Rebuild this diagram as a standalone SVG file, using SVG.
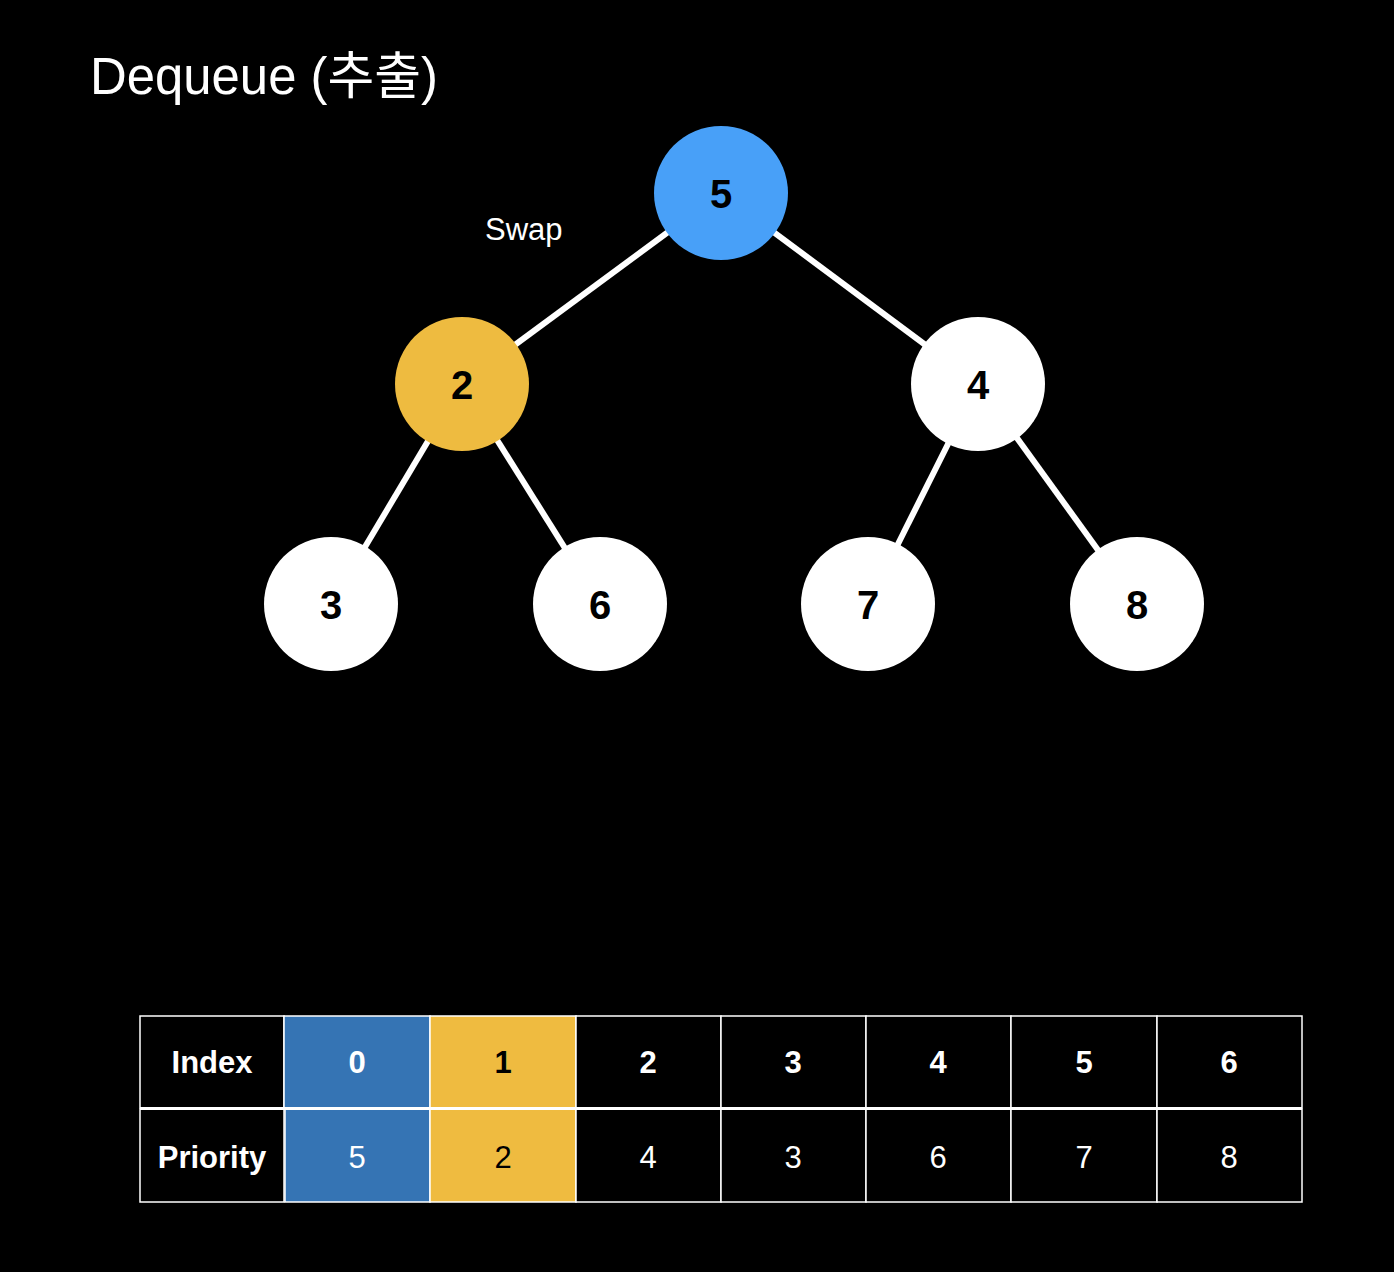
<svg xmlns="http://www.w3.org/2000/svg" width="1394" height="1272" viewBox="0 0 1394 1272">
<style>
.edge{stroke:#fff;stroke-width:6;fill:none}
.node{fill:#fff}
.nl{font-family:"Liberation Sans",Arial,sans-serif;font-weight:bold;font-size:40px;text-anchor:middle;fill:#000}
.cell{stroke:#fff;stroke-width:1.5}
.th{font-family:"Liberation Sans",Arial,sans-serif;font-weight:bold;font-size:31px;text-anchor:middle;fill:#fff}
.td{font-family:"Liberation Sans",Arial,sans-serif;font-size:31px;text-anchor:middle;fill:#fff}
</style>
<rect width="1394" height="1272" fill="#000"/>
<text x="90" y="94" font-family="'Liberation Sans','Noto Sans CJK KR',sans-serif" font-size="51" fill="#fff" textLength="348" lengthAdjust="spacingAndGlyphs">Dequeue (추출)</text>
<text x="485" y="240" font-family="'Liberation Sans',Arial,sans-serif" font-size="31" fill="#fff">Swap</text>
<g id="connectors">
<line class="edge" x1="721" y1="193" x2="462" y2="384"/>
<line class="edge" x1="721" y1="193" x2="978" y2="384"/>
<line class="edge" x1="462" y1="384" x2="331" y2="604"/>
<line class="edge" x1="462" y1="384" x2="600" y2="604"/>
<line class="edge" x1="978" y1="384" x2="868" y2="604"/>
<line class="edge" x1="978" y1="384" x2="1137" y2="604"/>
</g>
<g id="n5"><circle cx="721" cy="193" r="67" fill="#48A0F8"/><text class="nl" x="721" y="208">5</text></g>
<g id="n2"><circle cx="462" cy="384" r="67" fill="#EEBB40"/><text class="nl" x="462" y="399">2</text></g>
<g id="n4"><circle class="node" cx="978" cy="384" r="67"/><text class="nl" x="978" y="399">4</text></g>
<g id="n3"><circle class="node" cx="331" cy="604" r="67"/><text class="nl" x="331" y="619">3</text></g>
<g id="n6"><circle class="node" cx="600" cy="604" r="67"/><text class="nl" x="600" y="619">6</text></g>
<g id="n7"><circle class="node" cx="868" cy="604" r="67"/><text class="nl" x="868" y="619">7</text></g>
<g id="n8"><circle class="node" cx="1137" cy="604" r="67"/><text class="nl" x="1137" y="619">8</text></g>
<g id="table">
<rect class="cell" x="140" y="1016" width="144" height="92" fill="#000"/>
<rect class="cell" x="284" y="1016" width="146" height="92" fill="#3574B4"/>
<rect class="cell" x="430" y="1016" width="146" height="92" fill="#EFBB40"/>
<rect class="cell" x="576" y="1016" width="145" height="92" fill="#000"/>
<rect class="cell" x="721" y="1016" width="145" height="92" fill="#000"/>
<rect class="cell" x="866" y="1016" width="145" height="92" fill="#000"/>
<rect class="cell" x="1011" y="1016" width="146" height="92" fill="#000"/>
<rect class="cell" x="1157" y="1016" width="145" height="92" fill="#000"/>
<rect class="cell" x="140" y="1109" width="144" height="93" fill="#000"/>
<rect class="cell" x="285" y="1109" width="145" height="93" fill="#3574B4"/>
<rect class="cell" x="430" y="1109" width="146" height="93" fill="#EFBB40"/>
<rect class="cell" x="576" y="1109" width="145" height="93" fill="#000"/>
<rect class="cell" x="721" y="1109" width="145" height="93" fill="#000"/>
<rect class="cell" x="866" y="1109" width="145" height="93" fill="#000"/>
<rect class="cell" x="1011" y="1109" width="146" height="93" fill="#000"/>
<rect class="cell" x="1157" y="1109" width="145" height="93" fill="#000"/>
<line x1="140" y1="1108.5" x2="1302" y2="1108.5" stroke="#fff" stroke-width="3"/>
<text class="th" x="212" y="1073">Index</text>
<text class="th" x="357" y="1073">0</text>
<text class="th" x="503" y="1073" style="fill:#000">1</text>
<text class="th" x="648" y="1073">2</text>
<text class="th" x="793" y="1073">3</text>
<text class="th" x="938" y="1073">4</text>
<text class="th" x="1084" y="1073">5</text>
<text class="th" x="1229" y="1073">6</text>
<text class="th" x="212" y="1168">Priority</text>
<text class="td" x="357" y="1168">5</text>
<text class="td" x="503" y="1168" style="fill:#000">2</text>
<text class="td" x="648" y="1168">4</text>
<text class="td" x="793" y="1168">3</text>
<text class="td" x="938" y="1168">6</text>
<text class="td" x="1084" y="1168">7</text>
<text class="td" x="1229" y="1168">8</text>
</g>
</svg>
